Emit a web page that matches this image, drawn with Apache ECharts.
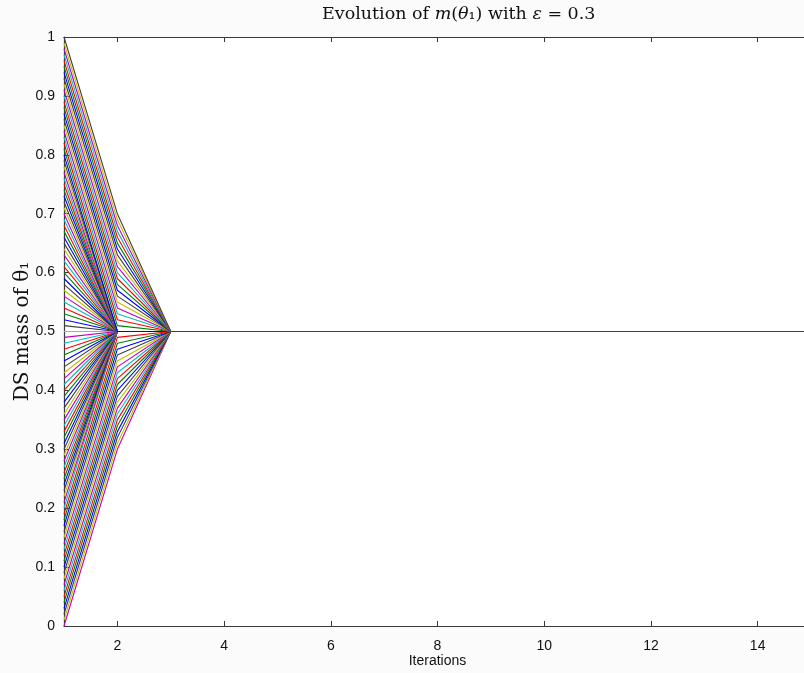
<!DOCTYPE html>
<html>
<head>
<meta charset="utf-8">
<script src="https://cdn.jsdelivr.net/npm/echarts@6/dist/echarts.min.js"></script>
<style>
  html, body { margin: 0; padding: 0; background: #fbfbfb; }
  #chart { width: 804px; height: 673px; }
</style>
</head>
<body>
<div id="chart"></div>
<script>
// ---- data ----
const iterations = [1, 2, 3, 4, 5, 6, 7, 8, 9, 10, 11, 12, 13, 14, 15];

// DS mass of theta_1 at iteration 1 (one line per starting value)
const initialMass = [
  0.00, 0.01, 0.02, 0.03, 0.04, 0.05, 0.06, 0.07, 0.08, 0.09,
  0.10, 0.11, 0.12, 0.13, 0.14, 0.15, 0.16, 0.17, 0.18, 0.19,
  0.20, 0.21, 0.22, 0.23, 0.24, 0.25, 0.26, 0.27, 0.28, 0.29,
  0.30, 0.31, 0.32, 0.33, 0.34, 0.35, 0.36, 0.37, 0.38, 0.39,
  0.40, 0.41, 0.42, 0.43, 0.44, 0.45, 0.46, 0.47, 0.48, 0.49,
  0.50, 0.51, 0.52, 0.53, 0.54, 0.55, 0.56, 0.57, 0.58, 0.59,
  0.60, 0.61, 0.62, 0.63, 0.64, 0.65, 0.66, 0.67, 0.68, 0.69,
  0.70, 0.71, 0.72, 0.73, 0.74, 0.75, 0.76, 0.77, 0.78, 0.79,
  0.80, 0.81, 0.82, 0.83, 0.84, 0.85, 0.86, 0.87, 0.88, 0.89,
  0.90, 0.91, 0.92, 0.93, 0.94, 0.95, 0.96, 0.97, 0.98, 0.99,
  1.00
];

// DS mass of theta_1 at iteration 2 (same order as initialMass)
const secondMass = [
  0.30, 0.31, 0.32, 0.33, 0.34, 0.35, 0.36, 0.37, 0.38, 0.39,
  0.40, 0.41, 0.42, 0.43, 0.44, 0.45, 0.46, 0.47, 0.48, 0.49,
  0.50, 0.50, 0.50, 0.50, 0.50, 0.50, 0.50, 0.50, 0.50, 0.50,
  0.50, 0.50, 0.50, 0.50, 0.50, 0.50, 0.50, 0.50, 0.50, 0.50,
  0.50, 0.50, 0.50, 0.50, 0.50, 0.50, 0.50, 0.50, 0.50, 0.50,
  0.50, 0.50, 0.50, 0.50, 0.50, 0.50, 0.50, 0.50, 0.50, 0.50,
  0.50, 0.50, 0.50, 0.50, 0.50, 0.50, 0.50, 0.50, 0.50, 0.50,
  0.50, 0.50, 0.50, 0.50, 0.50, 0.50, 0.50, 0.50, 0.50, 0.50,
  0.50, 0.51, 0.52, 0.53, 0.54, 0.55, 0.56, 0.57, 0.58, 0.59,
  0.60, 0.61, 0.62, 0.63, 0.64, 0.65, 0.66, 0.67, 0.68, 0.69,
  0.70
];

// value reached by every line from iteration 3 onward
const convergedMass = 0.5;

const xTickValues = [2, 4, 6, 8, 10, 12, 14];
const yTickLabels = ['0', '0.1', '0.2', '0.3', '0.4', '0.5', '0.6', '0.7', '0.8', '0.9', '1'];

// ---- styling ----
const palette = ['#0000ff', '#008000', '#ff0000', '#00bfbf', '#bf00bf', '#bfbf00', '#404040'];
const axisColor = '#3a3a3a';
const sans = 'Liberation Sans, Arial, Helvetica, sans-serif';
const serif = 'DejaVu Serif, Liberation Serif, serif';

const series = initialMass.map((m0, i) => ({
  type: 'line',
  xAxisIndex: 0,
  yAxisIndex: 0,
  symbol: 'none',
  silent: true,
  animation: false,
  lineStyle: { width: 1.1, color: palette[(i + 4) % palette.length] },
  data: iterations.map((it, k) => [it, k === 0 ? m0 : (k === 1 ? secondMass[i] : convergedMass)])
}));

const chart = echarts.init(document.getElementById('chart'), null, { renderer: 'canvas' });
chart.setOption({
  animation: false,
  backgroundColor: '#fbfbfb',
  grid: {
    left: 64, top: 37, right: -7, bottom: 47,
    containLabel: false, outerBoundsMode: 'none',
    show: true, backgroundColor: '#ffffff', borderWidth: 0
  },
  graphic: [{
    type: 'text',
    x: 322, y: 14,
    style: {
      text: 'Evolution of {i|m}({i|θ}₁) with {i|ε} = 0.3',
      font: '17.5px ' + serif,
      fill: '#111',
      align: 'left',
      verticalAlign: 'middle',
      rich: { i: { fontStyle: 'italic', fontFamily: serif, fontSize: 17.5 } }
    }
  }],
  xAxis: [{
    type: 'value', position: 'bottom', min: 1, max: 15,
    name: 'Iterations', nameLocation: 'middle', nameGap: 28, nameMoveOverlap: false,
    nameTextStyle: { fontFamily: sans, fontSize: 14, color: '#111' },
    axisLine: { show: true, onZero: false, lineStyle: { color: axisColor, width: 1.2 } },
    axisTick: { show: true, inside: true, length: 5, customValues: xTickValues, lineStyle: { color: axisColor } },
    axisLabel: { show: true, customValues: xTickValues, margin: 13, fontFamily: sans, fontSize: 14, color: '#111' },
    splitLine: { show: false }
  }, {
    type: 'value', position: 'top', min: 1, max: 15,
    axisLine: { show: true, onZero: false, lineStyle: { color: axisColor, width: 1.2 } },
    axisTick: { show: true, inside: true, length: 5, customValues: xTickValues, lineStyle: { color: axisColor } },
    axisLabel: { show: false },
    splitLine: { show: false }
  }],
  yAxis: [{
    type: 'value', position: 'left', min: 0, max: 1, interval: 0.1,
    name: 'DS mass of θ₁', nameLocation: 'middle', nameGap: 31, nameRotate: 90, nameMoveOverlap: false,
    nameTextStyle: { fontFamily: serif, fontSize: 20, color: '#111' },
    axisLine: { show: true, onZero: false, lineStyle: { color: axisColor, width: 1.2 } },
    axisTick: { show: true, inside: true, length: 5, lineStyle: { color: axisColor } },
    axisLabel: {
      show: true, margin: 9, fontFamily: sans, fontSize: 14, color: '#111',
      formatter: (v) => yTickLabels[Math.round(v * 10)]
    },
    splitLine: { show: false }
  }],
  series: series
});
</script>
</body>
</html>
